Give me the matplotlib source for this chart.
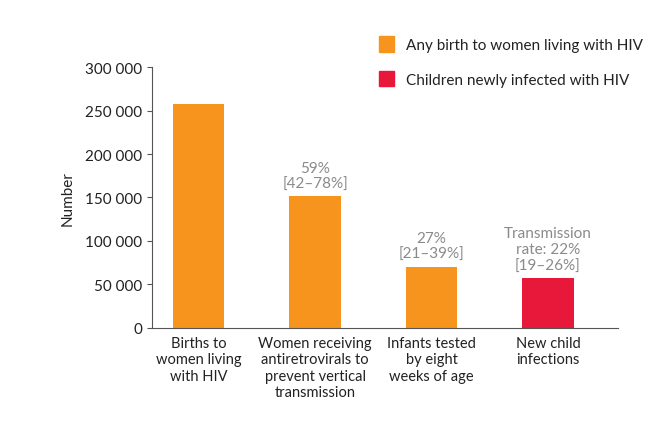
import matplotlib.pyplot as plt
from matplotlib.patches import Patch

plt.rcParams['font.family'] = ['Lato', 'DejaVu Sans']

categories = ["Births to\nwomen living\nwith HIV",
              "Women receiving\nantiretrovirals to\nprevent vertical\ntransmission",
              "Infants tested\nby eight\nweeks of age",
              "New child\ninfections"]
values = [258000, 151500, 70500, 57500]
notes = ["", "59%\n[42–78%]", "27%\n[21–39%]", "Transmission\nrate: 22%\n[19–26%]"]
orange = "#F7941D"
red = "#E8183B"
colors = [orange, orange, orange, red]

fig = plt.figure(figsize=(6.70, 4.31), dpi=100)
ax = fig.add_axes([0.227, 0.237, 0.695, 0.605])
ax.bar(range(4), values, width=0.44, color=colors)
ax.set_xlim(-0.4, 3.6)
ax.set_ylim(0, 300000)
ax.set_yticks(range(0, 300001, 50000))
ax.set_yticklabels(["0" if v == 0 else f"{v:,}".replace(",", " ") for v in range(0, 300001, 50000)])
ax.set_xticks(range(4))
ax.set_xticklabels(categories, va="top", fontsize=10.5, color="#222222")
ax.tick_params(axis="x", length=0, pad=6)
ax.tick_params(axis="y", labelsize=11, color="#555555", labelcolor="#222222")
for s in ["top", "right"]:
    ax.spines[s].set_visible(False)
ax.spines["left"].set_color("#555555")
ax.spines["bottom"].set_color("#555555")
ax.set_ylabel("Number", fontsize=11, color="#222222", labelpad=8)

for i, (v, n) in enumerate(zip(values, notes)):
    if n:
        ax.text(i, v + 6000, n, ha="center", va="bottom", fontsize=11,
                color="#8a8a8a", linespacing=1.2)

handles = [Patch(color=orange, label="Any birth to women living with HIV"),
           Patch(color=red, label="Children newly infected with HIV")]
fig.legend(handles=handles, loc="upper left", bbox_to_anchor=(0.545, 0.945),
           frameon=False, fontsize=11, handlelength=1.0, handleheight=1.2,
           labelspacing=1.2, handletextpad=0.8, labelcolor="#222222")

fig.savefig("out.png", dpi=100)
